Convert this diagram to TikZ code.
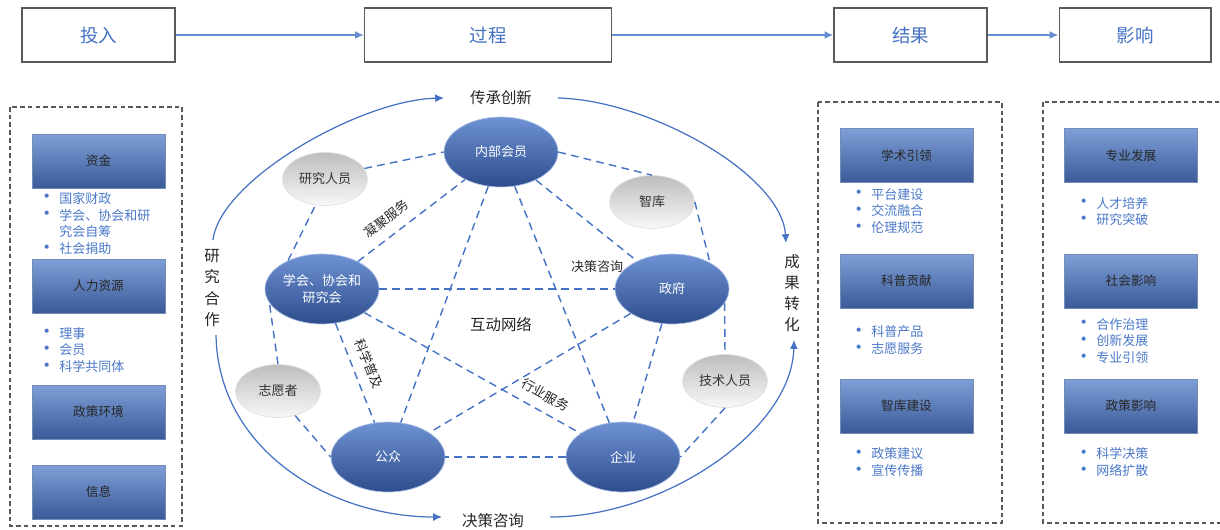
\documentclass[tikz,border=0pt]{standalone}
\usepackage{fontspec}
\setmainfont{Noto Sans CJK SC}
\usetikzlibrary{shapes.geometric,arrows.meta}

\definecolor{lineblue}{HTML}{4472C4}
\definecolor{itemblue}{HTML}{4A78C8}
\definecolor{boxtop}{HTML}{7F9FD8}
\definecolor{boxbot}{HTML}{3A5A98}
\definecolor{elltop}{HTML}{6E92D4}
\definecolor{ellbot}{HTML}{2D4C8C}
\definecolor{greytop}{HTML}{BDBDBD}
\definecolor{greybot}{HTML}{F8F8F8}

\newcommand\bul{\makebox[12.5pt][l]{\raisebox{-0.5pt}{\fontsize{11}{9}\selectfont•}}}
\newcommand\nob{\makebox[12.5pt][l]{}}

\tikzset{
  stage/.style={draw=black!65, line width=0.6pt, fill=white, minimum height=1.08cm,
    text=lineblue, font=\fontsize{10.5}{12}\selectfont},
  bluebox/.style={draw=boxbot!70, line width=0.5pt, top color=boxtop, bottom color=boxbot,
    minimum width=2.66cm, minimum height=1.08cm, text=black!85,
    font=\fontsize{7.2}{9}\selectfont},
  items/.style={anchor=west, align=left, inner sep=0pt, text=itemblue,
    font=\fontsize{7.4}{9.64}\selectfont},
  actor/.style={ellipse, top color=elltop, bottom color=ellbot, draw=elltop!60,
    minimum width=2.28cm, minimum height=1.4cm, inner sep=0pt, align=center,
    text=white, font=\fontsize{7.4}{9.6}\selectfont},
  partner/.style={ellipse, top color=greytop, bottom color=greybot, draw=black!12,
    minimum width=1.7cm, minimum height=1.06cm, inner sep=0pt, text=black!80,
    font=\fontsize{7.4}{9}\selectfont},
  net/.style={lineblue, line width=0.8pt, dash pattern=on 4.4pt off 3pt},
  flow/.style={lineblue, line width=0.7pt, -{Latex[length=5pt,width=4.5pt]}},
  pipe/.style={lineblue!80, line width=1pt, -{Latex[length=5pt,width=4.5pt]}},
  frame/.style={draw=black!65, line width=0.7pt, dash pattern=on 2.6pt off 1.8pt},
  edgelab/.style={inner sep=1.5pt, text=black!85, font=\fontsize{7.4}{9}\selectfont},
  biglab/.style={inner sep=1pt, text=black!85, align=center,
    font=\fontsize{8.8}{12}\selectfont},
}

\begin{document}
\begin{tikzpicture}[x=0.02cm, y=-0.02cm]
\useasboundingbox (0,0) rectangle (1220,529);

% stages
\node[stage, minimum width=3.06cm] (tr) at (98.5,35) {投入};
\node[stage, minimum width=4.94cm] (gc) at (488,35) {过程};
\node[stage, minimum width=3.06cm] (jg) at (910.5,35) {结果};
\node[stage, minimum width=3.04cm] (yx) at (1135,35) {影响};
\draw[pipe] (tr) -- (gc);
\draw[pipe] (gc) -- (jg);
\draw[pipe] (jg) -- (yx);

% dashed frames
\draw[frame] (10,107) rectangle (182,526);
\draw[frame] (818,102) rectangle (1002,523);
\draw[frame] (1043,102) rectangle (1232,523);

% inputs
\node[bluebox] (zj) at (98.5,161) {资金};
\node[items] (zjl) at (37,223.5) {\bul 国家财政\\ \bul 学会、协会和研\\ \nob 究会自筹\\ \bul 社会捐助};
\node[bluebox] (rl) at (98.5,286) {人力资源};
\node[items] (rll) at (37,350) {\bul 理事\\ \bul 会员\\ \bul 科学共同体};
\node[bluebox] (zc) at (98.5,412) {政策环境};
\node[bluebox] (xx) at (98.5,492) {信息};

% results
\node[bluebox] (xs) at (906.5,155.5) {学术引领};
\node[items] (xsl) at (849,211) {\bul 平台建设\\ \bul 交流融合\\ \bul 伦理规范};
\node[bluebox] (kp) at (906.5,281) {科普贡献};
\node[items] (kpl) at (849,340.5) {\bul 科普产品\\ \bul 志愿服务};
\node[bluebox] (zkj) at (906.5,406) {智库建设};
\node[items] (zkl) at (849,462) {\bul 政策建议\\ \bul 宣传传播};

% impacts
\node[bluebox] (zyf) at (1131,155.5) {专业发展};
\node[items] (zyl) at (1074,211.5) {\bul 人才培养\\ \bul 研究突破};
\node[bluebox] (shy) at (1131,281) {社会影响};
\node[items] (shl) at (1074,341) {\bul 合作治理\\ \bul 创新发展\\ \bul 专业引领};
\node[bluebox] (zcy) at (1131,406) {政策影响};
\node[items] (zcl) at (1074,462) {\bul 科学决策\\ \bul 网络扩散};

% network
\node[actor] (hy) at (501,152) {内部会员};
\node[actor] (xh) at (322,289) {学会、协会和\\研究会};
\node[actor] (zf) at (672,289) {政府};
\node[actor] (gz) at (388,457) {公众};
\node[actor] (qy) at (623,457) {企业};
\node[partner] (yj) at (325,179) {研究人员};
\node[partner] (zk) at (652,202) {智库};
\node[partner] (zy) at (278,391) {志愿者};
\node[partner] (js) at (725,381) {技术人员};

% outer ring
\draw[net] (yj.15) -- (hy.west);
\draw[net] (hy.east) -- (zk.north);
\draw[net] (zk.east) -- (zf.35);
\draw[net] (zf.-15) -- (js.north);
\draw[net] (js.south) -- (qy.east);
\draw[net] (qy.west) -- (gz.east);
\draw[net] (zy.-55) -- (gz.west);
\draw[net] (zy.north) -- (xh.195);
\draw[net] (xh.140) -- (yj.250);

% star
\draw[net] (xh) -- node[edgelab, sloped, above=4pt, pos=0.36] (lnj) {凝聚服务} (hy);
\draw[net] (xh) -- node[edgelab, sloped, above=4pt, pos=0.47] (lkp) {科学普及} (gz);
\draw[net] (xh) -- node[edgelab, sloped, above=4pt, pos=0.8] (lhy) {行业服务} (qy);
\foreach \a/\b in {hy/zf, zf/qy, xh/zf, hy/gz, hy/qy, zf/gz}
  \draw[net] (\a) -- (\b);
\node[edgelab] (ljc) at (597,267) {决策咨询};
\node[biglab] (hd) at (501,325) {互动网络};

% outer flows
\node[biglab] (cc) at (501,98) {传承创新};
\node[biglab] (jc) at (493,521) {决策咨询};
\node[biglab] (yh) at (212,288) {研\\究\\合\\作};
\node[biglab] (cz) at (792,293) {成\\果\\转\\化};
\coordinate (c1) at (213,240);
\coordinate (c2) at (444,98);
\coordinate (c3) at (558,98);
\coordinate (c4) at (786,243);
\coordinate (c5) at (550,517);
\coordinate (c6) at (794,340);
\coordinate (c7) at (216,335);
\coordinate (c8) at (442,517);
\draw[flow] (c1) .. controls (220,180) and (360,100) .. (c2);
\draw[flow] (c3) .. controls (650,100) and (782,175) .. (c4);
\draw[flow] (c5) .. controls (665,517) and (792,430) .. (c6);
\draw[flow] (c7) .. controls (218,450) and (330,517) .. (c8);
\end{tikzpicture}
\end{document}
